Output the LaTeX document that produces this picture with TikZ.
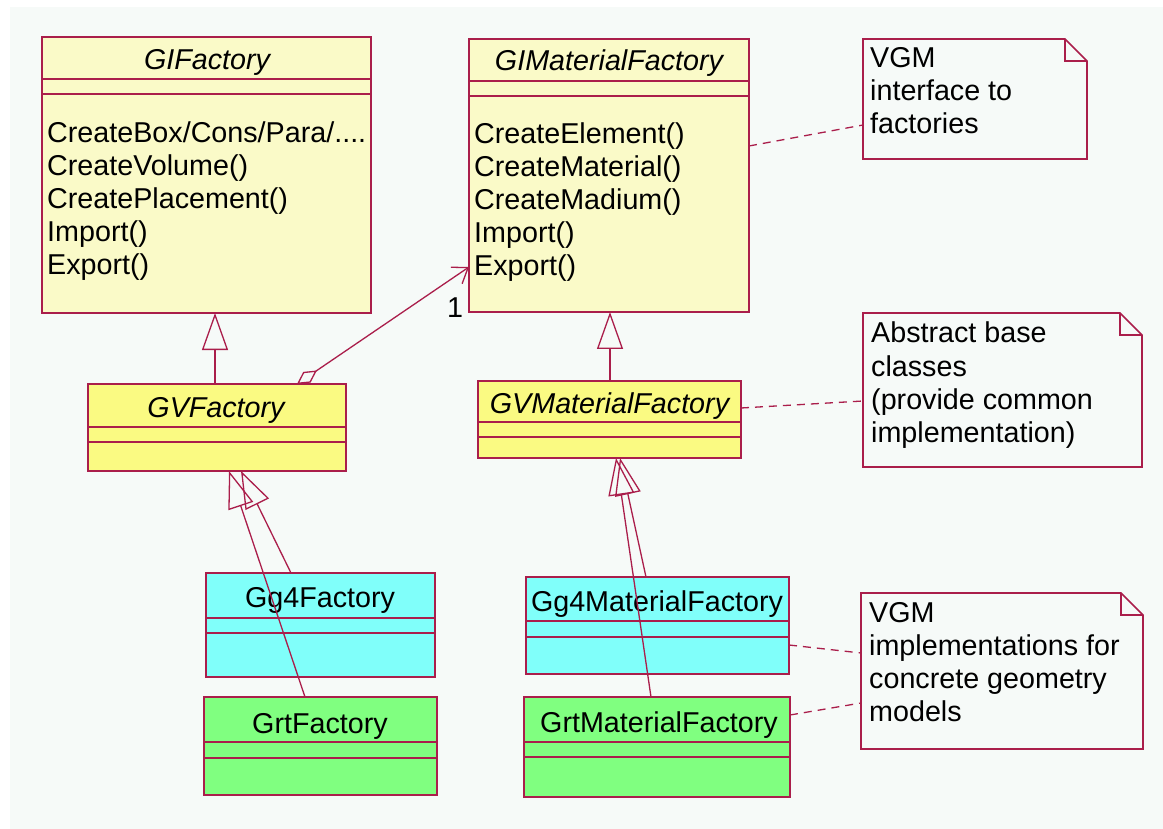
\documentclass[tikz,border=0pt]{standalone}
\usepackage{fontspec}
\setmainfont{Liberation Sans}
\usetikzlibrary{arrows.meta}
\definecolor{lc}{RGB}{170,30,75}
\definecolor{bgc}{RGB}{246,250,248}
\definecolor{paley}{RGB}{250,250,200}
\definecolor{yel}{RGB}{250,250,130}
\definecolor{cyn}{RGB}{128,255,250}
\definecolor{grn}{RGB}{128,255,128}
\tikzset{
  cls/.style={draw=lc, line width=1.6pt, anchor=north west, inner sep=0pt, outer sep=0pt},
  cmp/.style={draw=lc, line width=1.6pt},
  ttl/.style={anchor=base, inner sep=0pt},
  meth/.style={anchor=base west, inner sep=0pt},
  notebox/.style={anchor=north west, inner sep=0pt, outer sep=0pt},
  noteline/.style={draw=lc, line width=1.6pt, fill=bgc},
  foldline/.style={draw=lc, line width=1.6pt},
  genl/.style={draw=lc, line width=1.3pt, -{Triangle[open, length=37pt, width=26pt, line width=1.3pt]}},
  dep/.style={draw=lc, line width=1.3pt, dash pattern=on 8pt off 6pt},
  agg/.style={draw=lc, line width=1.3pt, {Diamond[open, length=24pt, width=13pt, line width=1.3pt]}-{Straight Barb[length=14pt, width=20pt, line width=1.3pt]}},
}
\begin{document}
\begin{tikzpicture}[x=1pt, y=-1pt, font=\fontsize{28.7}{33}\selectfont]
\useasboundingbox (0,0) rectangle (1163,829);
\fill[white] (0,0) rectangle (1163,829);
\fill[bgc] (10,7) rectangle (1163,829);

% GIFactory
\node[cls, fill=paley, minimum width=329pt, minimum height=276pt] (gi) at (42,37) {};
\draw[cmp] (42,79) -- (371,79);
\draw[cmp] (42,94) -- (371,94);
\node[ttl] (gititle) at (207,70) {\itshape GIFactory};
\node[meth] (gim1) at (47,143) {CreateBox/Cons/Para/....};
\node[meth] (gim2) at (47,176) {CreateVolume()};
\node[meth] (gim3) at (47,209) {CreatePlacement()};
\node[meth] (gim4) at (47,242) {Import()};
\node[meth] (gim5) at (47,275) {Export()};

% GIMaterialFactory
\node[cls, fill=paley, minimum width=280pt, minimum height=273pt] (gimf) at (469,39) {};
\draw[cmp] (469,81) -- (749,81);
\draw[cmp] (469,96) -- (749,96);
\node[ttl] (gimftitle) at (609,71) {\itshape GIMaterialFactory};
\node[meth] (gimfm1) at (474,144) {CreateElement()};
\node[meth] (gimfm2) at (474,177) {CreateMaterial()};
\node[meth] (gimfm3) at (474,210) {CreateMadium()};
\node[meth] (gimfm4) at (474,243) {Import()};
\node[meth] (gimfm5) at (474,276) {Export()};

% GVFactory
\node[cls, fill=yel, minimum width=258pt, minimum height=87pt] (gv) at (88,384) {};
\draw[cmp] (88,427) -- (346,427);
\draw[cmp] (88,442) -- (346,442);
\node[ttl] (gvtitle) at (216,417) {\itshape GVFactory};

% GVMaterialFactory
\node[cls, fill=yel, minimum width=263pt, minimum height=77pt] (gvm) at (478,381) {};
\draw[cmp] (478,422) -- (741,422);
\draw[cmp] (478,437) -- (741,437);
\node[ttl] (gvmtitle) at (609.5,413) {\itshape GVMaterialFactory};

% Gg4Factory
\node[cls, fill=cyn, minimum width=229pt, minimum height=104pt] (gg4) at (206,573) {};
\draw[cmp] (206,618) -- (435,618);
\draw[cmp] (206,633) -- (435,633);
\node[ttl] (gg4title) at (320,607) {Gg4Factory};

% GrtFactory
\node[cls, fill=grn, minimum width=233pt, minimum height=98pt] (grt) at (204,697) {};
\draw[cmp] (204,742) -- (437,742);
\draw[cmp] (204,758) -- (437,758);
\node[ttl] (grttitle) at (320,733) {GrtFactory};

% Gg4MaterialFactory
\node[cls, fill=cyn, minimum width=263pt, minimum height=97pt] (gg4m) at (526,577) {};
\draw[cmp] (526,621) -- (789,621);
\draw[cmp] (526,637) -- (789,637);
\node[ttl] (gg4mtitle) at (657,611) {Gg4MaterialFactory};

% GrtMaterialFactory
\node[cls, fill=grn, minimum width=266pt, minimum height=100pt] (grtm) at (524,697) {};
\draw[cmp] (524,742) -- (790,742);
\draw[cmp] (524,757) -- (790,757);
\node[ttl] (grtmtitle) at (659,732) {GrtMaterialFactory};

% Notes
\node[notebox, minimum width=224pt, minimum height=120pt] (n1) at (863,39) {};
\node[notebox, minimum width=279pt, minimum height=154pt] (n2) at (863,313) {};
\node[notebox, minimum width=282pt, minimum height=156pt] (n3) at (861,593) {};
\foreach \n in {n1,n2,n3}{
  \draw[noteline] (\n.north west) -- ([xshift=-22pt]\n.north east) -- ([yshift=-22pt]\n.north east) -- (\n.south east) -- (\n.south west) -- cycle;
  \draw[foldline] ([xshift=-22pt]\n.north east) -- ([xshift=-22pt,yshift=-22pt]\n.north east) -- ([yshift=-22pt]\n.north east);
}
\node[meth] (n1t1) at (870,68) {VGM};
\node[meth] (n1t2) at (870,101) {interface to};
\node[meth] (n1t3) at (870,134) {factories};
\node[meth] (n2t1) at (871,343) {Abstract base};
\node[meth] (n2t2) at (871,376) {classes};
\node[meth] (n2t3) at (871,409) {(provide common};
\node[meth] (n2t4) at (871,442) {implementation)};
\node[meth] (n3t1) at (869,622) {VGM};
\node[meth] (n3t2) at (869,655) {implementations for};
\node[meth] (n3t3) at (869,688) {concrete geometry};
\node[meth] (n3t4) at (869,721) {models};

% Generalizations
\draw[genl] ([xshift=-2pt]gv.north) -- ([xshift=8.5pt]gi.south);
\draw[genl] ([xshift=0.5pt]gvm.north) -- ([xshift=1pt]gimf.south);
\draw[genl] ([xshift=-29.5pt]gg4.north) -- ([xshift=24pt]gv.south);
\draw[genl] ([xshift=-15.5pt]grt.north) -- ([xshift=12pt]gv.south);
\draw[genl] ([xshift=-11.5pt]gg4m.north) -- ([xshift=10.5pt]gvm.south);
\draw[genl] ([xshift=-6pt]grtm.north) -- ([xshift=6.5pt]gvm.south);

% Aggregation
\draw[agg] ([xshift=80pt]gv.north) -- ([yshift=-91.5pt]gimf.west);
\node[ttl] (mult) at (455,318) {1};

% Note dependencies
\draw[dep] ([yshift=29.5pt]gimf.east) -- ([yshift=-26pt]n1.west);
\draw[dep] ([yshift=11.5pt]gvm.east) -- ([yshift=-11pt]n2.west);
\draw[dep] ([yshift=-19.5pt]gg4m.east) -- ([yshift=18pt]n3.west);
\draw[dep] ([yshift=32pt]grtm.east) -- ([yshift=-32pt]n3.west);
\end{tikzpicture}
\end{document}
